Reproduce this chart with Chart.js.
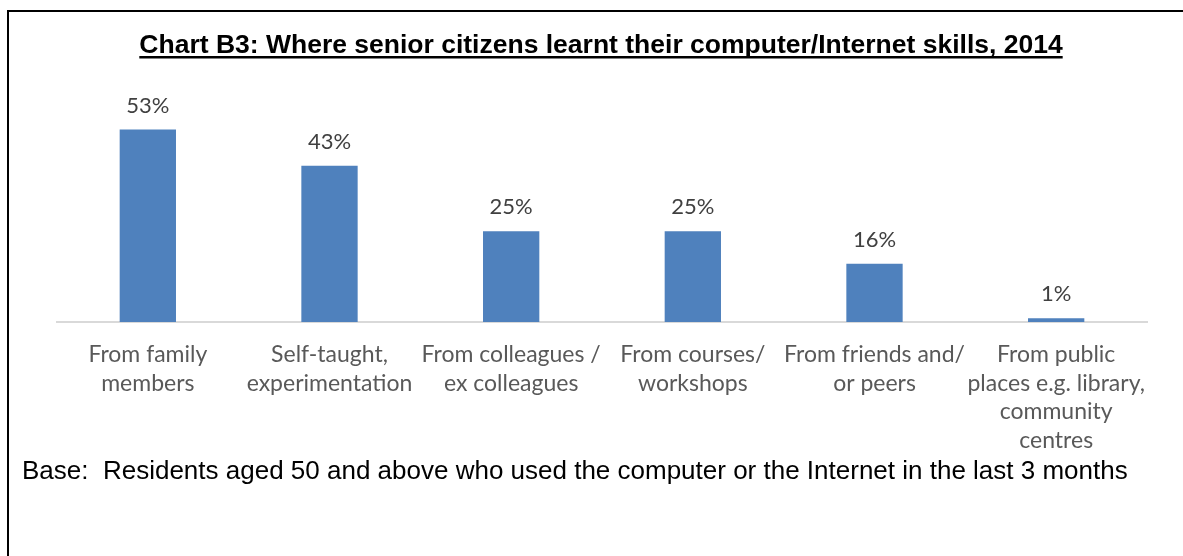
<!DOCTYPE html>
<html>
<head>
<meta charset="utf-8">
<script src="https://cdn.jsdelivr.net/npm/chart.js@4"></script>
<style>
  html, body { margin: 0; padding: 0; background: #fff; }
  #wrap { position: relative; width: 1183px; height: 556px; overflow: hidden; }
  #frame { position: absolute; left: 7px; top: 10px; width: 1176px; height: 546px;
           border-top: 2px solid #000; border-left: 2px solid #000; box-sizing: border-box; }
  #myChart { position: absolute; left: 0; top: 0; }
</style>
</head>
<body>
<div id="wrap">
  <div id="frame"></div>
  <canvas id="myChart" width="1183" height="556"></canvas>
</div>
<script>
// chart data
var categories = [
  ['From family', 'members'],
  ['Self-taught,', 'experimentation'],
  ['From colleagues /', 'ex colleagues'],
  ['From courses/', 'workshops'],
  ['From friends and/', 'or peers'],
  ['From public', 'places e.g. library,', 'community', 'centres']
];
var shares = [53, 43, 25, 25, 16, 1];
var chartTitle = 'Chart B3: Where senior citizens learnt their computer/Internet skills, 2014';
var baseNote = 'Base:  Residents aged 50 and above who used the computer or the Internet in the last 3 months';

// draws the title, the % labels over the bars and the base note
var textPlugin = {
  id: 'textPlugin',
  afterDatasetsDraw: function(chart) {
    var ctx = chart.ctx;
    ctx.save();

    // bar labels
    ctx.fillStyle = '#404040';
    ctx.font = '22px Lato, "Open Sans", sans-serif';
    ctx.textAlign = 'center';
    ctx.textBaseline = 'middle';
    chart.getDatasetMeta(0).data.forEach(function(bar, i) {
      ctx.fillText(shares[i] + '%', bar.x, bar.y - 24);
    });

    // title, underlined
    ctx.fillStyle = '#000';
    ctx.font = 'bold 26.5px "Liberation Sans", Arial, sans-serif';
    ctx.textBaseline = 'alphabetic';
    var w = ctx.measureText(chartTitle).width;
    ctx.fillText(chartTitle, 601, 53);
    ctx.fillRect(601 - w / 2, 56, w, 2.5);

    // base note
    ctx.font = '26px "Liberation Sans", Arial, sans-serif';
    ctx.textAlign = 'left';
    ctx.fillText(baseNote, 22, 479);
    ctx.restore();
  }
};

var ctx = document.getElementById('myChart').getContext('2d');
var myChart = new Chart(ctx, {
  type: 'bar',
  data: {
    labels: categories,
    datasets: [{
      data: shares,
      backgroundColor: '#4F81BD',
      borderWidth: 0,
      barPercentage: 0.62,
      categoryPercentage: 0.5
    }]
  },
  options: {
    responsive: false,
    animation: false,
    layout: { padding: { left: 57, right: 36, top: 104, bottom: 0 } },
    plugins: {
      legend: { display: false },
      tooltip: { enabled: false }
    },
    scales: {
      y: {
        display: false,
        min: 0,
        max: 60
      },
      x: {
        grid: { display: false, drawTicks: false },
        border: { display: true, color: '#D9D9D9', width: 2 },
        ticks: {
          color: '#595959',
          font: { family: 'Lato, "Open Sans", sans-serif', size: 23, lineHeight: 1.25 },
          padding: 18,
          maxRotation: 0,
          autoSkip: false
        },
        afterFit: function(scale) {
          scale.height = 234;
        }
      }
    }
  },
  plugins: [textPlugin]
});
</script>
</body>
</html>
